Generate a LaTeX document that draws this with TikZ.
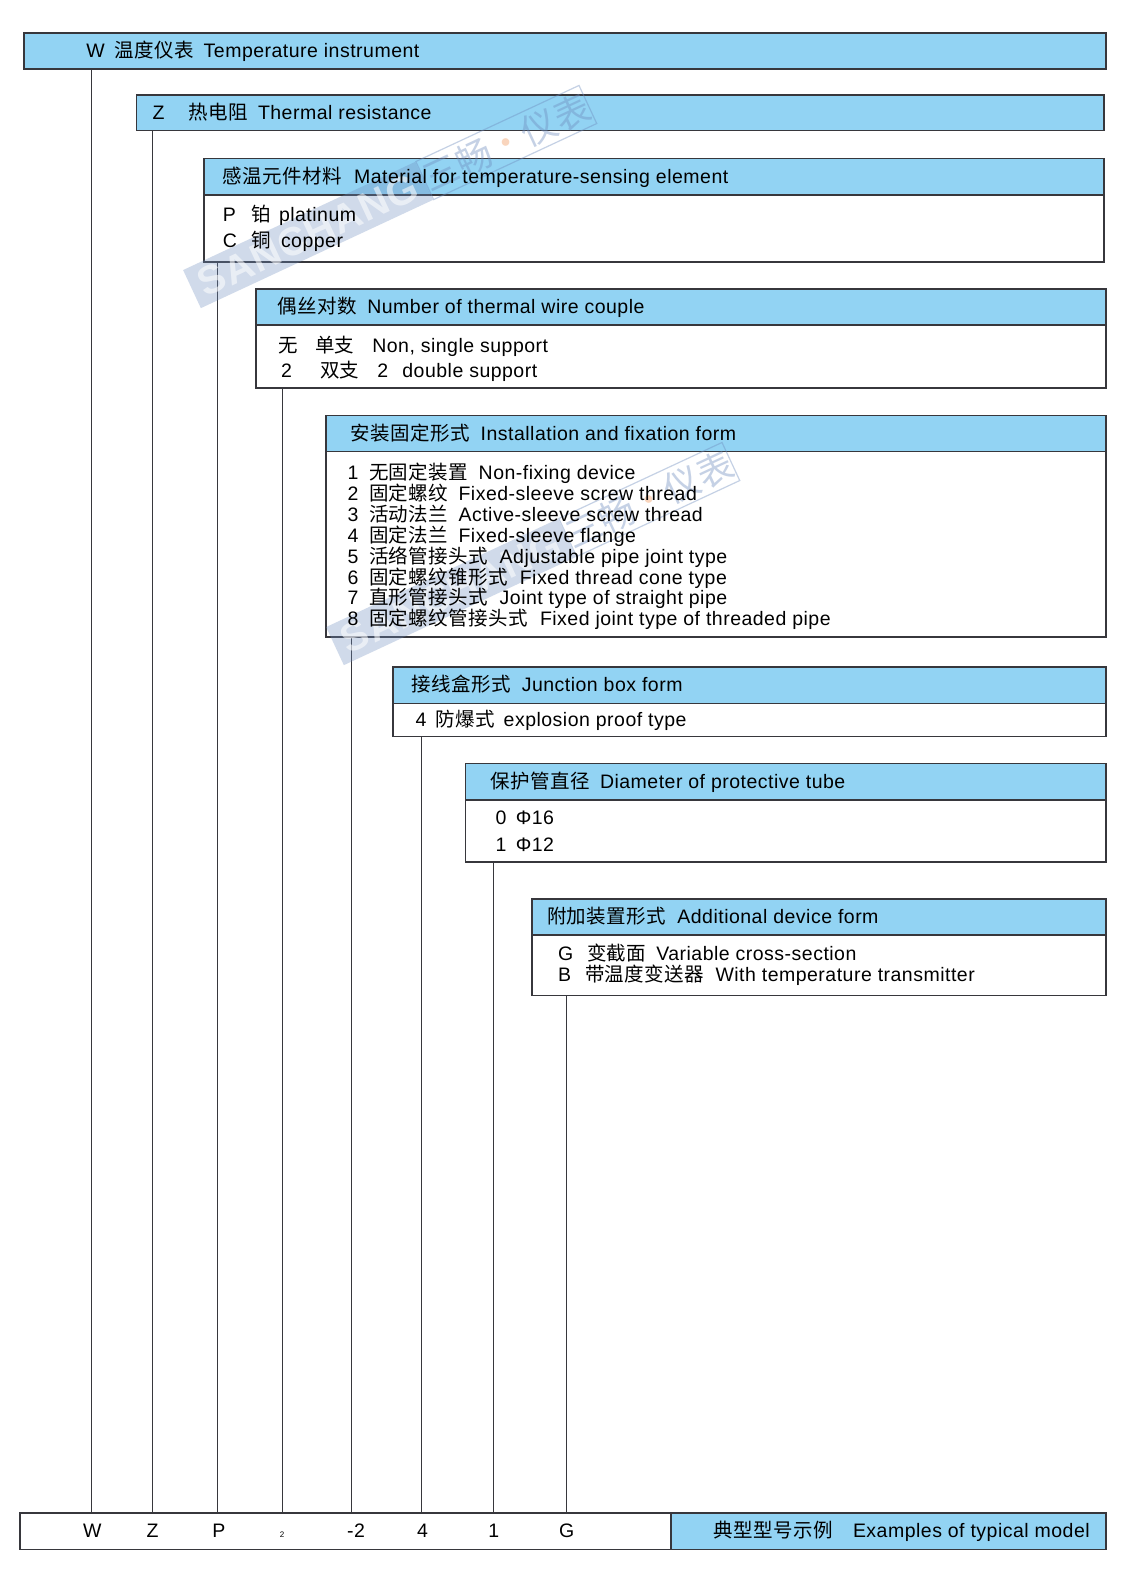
\documentclass[tikz,border=0pt]{standalone}
\usepackage{fontspec}
\setmainfont{Liberation Sans}[LetterSpace=2.5]
\newfontfamily\cjkfont[LetterSpace=2.5]{Noto Sans CJK SC}
\newfontfamily\wmcjk{Noto Sans CJK SC}
\newcommand\zh[1]{{\cjkfont #1}}
\definecolor{hb}{RGB}{146,211,243}
\definecolor{lc}{RGB}{55,55,60}
\definecolor{wm}{RGB}{110,140,190}
\definecolor{wmdot}{RGB}{240,150,90}
\begin{document}
\begin{tikzpicture}[x=1pt,y=-1pt,
 box/.style={draw=lc, line width=1.4pt, anchor=north west, inner sep=0pt, outer sep=0pt},
 hdr/.style={box, fill=hb},
 bdy/.style={box, fill=white},
 t/.style={anchor=west, inner sep=0pt, outer sep=0pt, text height=13.5pt, text depth=0pt, font=\fontsize{19.5}{22}\selectfont},
 tc/.style={t, anchor=center},
 conn/.style={draw=lc, line width=1pt},
 wmband/.style={rotate=25, fill=wm, fill opacity=.32, text=white, text opacity=.55, font=\fontsize{40}{40}\bfseries\selectfont, minimum height=42pt, minimum width=256pt, inner sep=0pt},
 wmbox/.style={rotate=25, draw=wm, draw opacity=.4, line width=1.2pt, text=wm, text opacity=.4, font=\wmcjk\fontsize{36}{36}\selectfont, minimum height=42pt, minimum width=175pt, inner sep=0pt, anchor=west}
]
\useasboundingbox (0,0) rectangle (1143,1573);
\fill[white] (0,0) rectangle (1143,1573);

% boxes
\node[hdr, minimum width=1082pt, minimum height=36pt] (h1) at (24,33) {};
\node[hdr, minimum width=967.5pt, minimum height=35.5pt] (h2) at (136.5,95) {};
\node[bdy, minimum width=900pt, minimum height=103.5pt] (b3) at (204,158.5) {};
\node[hdr, minimum width=900pt, minimum height=36.5pt] (h3) at (204,158.5) {};
\node[bdy, minimum width=850pt, minimum height=99pt] (b4) at (256,289) {};
\node[hdr, minimum width=850pt, minimum height=36pt] (h4) at (256,289) {};
\node[bdy, minimum width=780pt, minimum height=221.5pt] (b5) at (326,415.5) {};
\node[hdr, minimum width=780pt, minimum height=36pt] (h5) at (326,415.5) {};
\node[bdy, minimum width=713pt, minimum height=69.5pt] (b6) at (393,667) {};
\node[hdr, minimum width=713pt, minimum height=36.5pt] (h6) at (393,667) {};
\node[bdy, minimum width=640.5pt, minimum height=98.5pt] (b7) at (465.5,763.5) {};
\node[hdr, minimum width=640.5pt, minimum height=36.5pt] (h7) at (465.5,763.5) {};
\node[bdy, minimum width=574pt, minimum height=96.5pt] (b8) at (532,899) {};
\node[hdr, minimum width=574pt, minimum height=36pt] (h8) at (532,899) {};
\node[bdy, minimum width=651pt, minimum height=36.5pt] (bw) at (20,1513) {};
\node[hdr, minimum width=435pt, minimum height=36.5pt] (bb) at (671,1513) {};

% connector end points on the bottom box
\coordinate (c1) at (91.3,1513);
\coordinate (c2) at (152.5,1513);
\coordinate (c3) at (217.8,1513);
\coordinate (c4) at (282,1513);
\coordinate (c5) at (351,1513);
\coordinate (c6) at (421.5,1513);
\coordinate (c7) at (493.7,1513);
\coordinate (c8) at (566,1513);
\draw[conn] (h1.south -| c1) -- (c1);
\draw[conn] (h2.south -| c2) -- (c2);
\draw[conn] (b3.south -| c3) -- (c3);
\draw[conn] (b4.south -| c4) -- (c4);
\draw[conn] (b5.south -| c5) -- (c5);
\draw[conn] (b6.south -| c6) -- (c6);
\draw[conn] (b7.south -| c7) -- (c7);
\draw[conn] (b8.south -| c8) -- (c8);

% watermarks (behind the texts)
\node[wmband] (wa1) at (308,235) {SANCHANG};
\node[wmbox] (wb1) at (wa1.east) {三畅\textcolor{wmdot}{·}仪表};
\node[wmband] (wa2) at (451,592) {SANCHANG};
\node[wmbox] (wb2) at (wa2.east) {三畅\textcolor{wmdot}{·}仪表};

% box 1
\node[t] (w1a) at (86.3,51) {W};
\node[t] (w1b) at (114.4,51) {\zh{温度仪表}};
\node[t] (w1c) at (203.7,51) {Temperature instrument};
% box 2
\node[t] (z1a) at (152.5,112.8) {Z};
\node[t] (z1b) at (188.7,112.8) {\zh{热电阻}};
\node[t] (z1c) at (258,112.8) {Thermal resistance};
% box 3
\node[t] (m1a) at (222.8,176.8) {\zh{感温元件材料}};
\node[t] (m1b) at (354.2,176.8) {Material for temperature-sensing element};
\node[t] (m2a) at (222.8,215) {P};
\node[t] (m2b) at (251.9,215) {\zh{铂}};
\node[t] (m2c) at (279,215) {platinum};
\node[t] (m3a) at (222.8,241) {C};
\node[t] (m3b) at (251.9,241) {\zh{铜}};
\node[t] (m3c) at (281,241) {copper};
% box 4
\node[t] (n1a) at (277.9,307) {\zh{偶丝对数}};
\node[t] (n1b) at (367.3,307) {Number of thermal wire couple};
\node[t] (n2a) at (278,345.5) {\zh{无}};
\node[t] (n2b) at (315,345.5) {\zh{单支}};
\node[t] (n2c) at (372.3,345.5) {Non, single support};
\node[t] (n3a) at (281,371) {2};
\node[t] (n3b) at (320,371) {\zh{双支}};
\node[t] (n3c) at (377.3,371) {2};
\node[t] (n3d) at (402.4,371) {double support};
% box 5
\node[t] (i1a) at (350.2,433.5) {\zh{安装固定形式}};
\node[t] (i1b) at (480.7,433.5) {Installation and fixation form};
\node[t] (r1a) at (347.5,472.8) {1};
\node[t] (r1b) at (369,472.8) {\zh{无固定装置}};
\node[t] (r1c) at (478.7,472.8) {Non-fixing device};
\node[t] (r2a) at (347.5,493.7) {2};
\node[t] (r2b) at (369,493.7) {\zh{固定螺纹}};
\node[t] (r2c) at (458.6,493.7) {Fixed-sleeve screw thread};
\node[t] (r3a) at (347.5,514.6) {3};
\node[t] (r3b) at (369,514.6) {\zh{活动法兰}};
\node[t] (r3c) at (458.6,514.6) {Active-sleeve screw thread};
\node[t] (r4a) at (347.5,535.5) {4};
\node[t] (r4b) at (369,535.5) {\zh{固定法兰}};
\node[t] (r4c) at (458.6,535.5) {Fixed-sleeve flange};
\node[t] (r5a) at (347.5,556.4) {5};
\node[t] (r5b) at (369,556.4) {\zh{活络管接头式}};
\node[t] (r5c) at (499.7,556.4) {Adjustable pipe joint type};
\node[t] (r6a) at (347.5,577.3) {6};
\node[t] (r6b) at (369,577.3) {\zh{固定螺纹锥形式}};
\node[t] (r6c) at (519.8,577.3) {Fixed thread cone type};
\node[t] (r7a) at (347.5,598.2) {7};
\node[t] (r7b) at (369,598.2) {\zh{直形管接头式}};
\node[t] (r7c) at (499.7,598.2) {Joint type of straight pipe};
\node[t] (r8a) at (347.5,619.1) {8};
\node[t] (r8b) at (369,619.1) {\zh{固定螺纹管接头式}};
\node[t] (r8c) at (540,619.1) {Fixed joint type of threaded pipe};
% box 6
\node[t] (j1a) at (411.4,685.2) {\zh{接线盒形式}};
\node[t] (j1b) at (521.8,685.2) {Junction box form};
\node[t] (j2a) at (415.5,720) {4};
\node[t] (j2b) at (435.5,720) {\zh{防爆式}};
\node[t] (j2c) at (503.7,720) {explosion proof type};
% box 7
\node[t] (p1a) at (490.7,781.7) {\zh{保护管直径}};
\node[t] (p1b) at (600,781.7) {Diameter of protective tube};
\node[t] (p2a) at (495.7,817.5) {0};
\node[t] (p2b) at (515.8,817.5) {Φ16};
\node[t] (p3a) at (495.7,844.5) {1};
\node[t] (p3b) at (515.8,844.5) {Φ12};
% box 8
\node[t] (a1a) at (547,917) {\zh{附加装置形式}};
\node[t] (a1b) at (677.4,917) {Additional device form};
\node[t] (a2a) at (558,953.5) {G};
\node[t] (a2b) at (587,953.5) {\zh{变截面}};
\node[t] (a2c) at (656.3,953.5) {Variable cross-section};
\node[t] (a3a) at (558,974.5) {B};
\node[t] (a3b) at (585,974.5) {\zh{带温度变送器}};
\node[t] (a3c) at (715.5,974.5) {With temperature transmitter};
% bottom row
\node[t] (e1) at (713.5,1531) {\zh{典型型号示例}};
\node[t] (e2) at (853,1531) {Examples of typical model};
\node[tc] (lW) at (92.3,1531) {W};
\node[tc] (lZ) at (152.5,1531) {Z};
\node[tc] (lP) at (218.8,1531) {P};
\node[anchor=center, inner sep=0pt, font=\fontsize{8}{9}\selectfont] (l2) at (282,1535) {2};
\node[tc] (lm2) at (356,1531) {-2};
\node[tc] (l4) at (422.5,1531) {4};
\node[tc] (l1) at (493.7,1531) {1};
\node[tc] (lG) at (566.8,1531) {G};
\end{tikzpicture}
\end{document}
